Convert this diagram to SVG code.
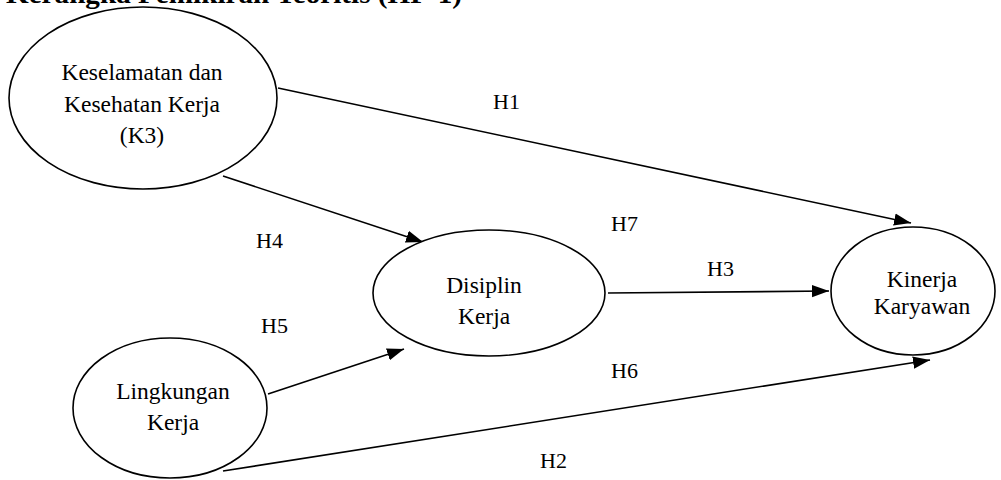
<svg xmlns="http://www.w3.org/2000/svg" width="1001" height="480" viewBox="0 0 1001 480">
<style>
.n{fill:#fff;stroke:#000;stroke-width:1.6}
.t{font-size:23.5px;fill:#000;text-anchor:middle}
.l{font-size:22px;fill:#000}
.c{stroke:#000;stroke-width:1.6;fill:none}
</style>
<defs>
<marker id="ah" viewBox="0 0 10 10" refX="10" refY="5" markerWidth="17" markerHeight="17" markerUnits="userSpaceOnUse" orient="auto">
<path d="M0,1.4 L10,5 L0,8.6 Z" fill="#000"/>
</marker>
</defs>
<rect width="1001" height="480" fill="#fff"/>
<g font-family="Liberation Serif, Times New Roman, serif">
<text x="6" y="3" font-weight="bold" font-size="28" textLength="456" lengthAdjust="spacingAndGlyphs">Kerangka Pemikiran Teoritis (HP-1)</text>
<g id="connectors">
<line class="c" x1="278" y1="88" x2="911" y2="223" marker-end="url(#ah)"/>
<line class="c" x1="223" y1="176" x2="423" y2="242" marker-end="url(#ah)"/>
<line class="c" x1="608" y1="293" x2="829" y2="291" marker-end="url(#ah)"/>
<line class="c" x1="268" y1="394" x2="404" y2="349" marker-end="url(#ah)"/>
<line class="c" x1="223" y1="471" x2="930" y2="360" marker-end="url(#ah)"/>
</g>
<g id="k3">
<ellipse class="n" cx="143" cy="98" rx="134" ry="91"/>
<text class="t" x="142" y="80">Keselamatan dan</text>
<text class="t" x="142" y="112">Kesehatan Kerja</text>
<text class="t" x="142" y="143">(K3)</text>
</g>
<g id="disiplin">
<ellipse class="n" cx="489" cy="293" rx="116" ry="63"/>
<text class="t" x="484" y="293">Disiplin</text>
<text class="t" x="484" y="324">Kerja</text>
</g>
<g id="kinerja">
<ellipse class="n" cx="913" cy="291" rx="82" ry="64"/>
<text class="t" x="922" y="287">Kinerja</text>
<text class="t" x="922" y="314">Karyawan</text>
</g>
<g id="lingkungan">
<ellipse class="n" cx="170" cy="408" rx="97" ry="70"/>
<text class="t" x="173" y="399">Lingkungan</text>
<text class="t" x="173" y="430">Kerja</text>
</g>
<g id="labels">
<text class="l" x="493" y="109">H1</text>
<text class="l" x="256" y="248">H4</text>
<text class="l" x="611" y="231">H7</text>
<text class="l" x="707" y="276">H3</text>
<text class="l" x="261" y="333">H5</text>
<text class="l" x="611" y="378">H6</text>
<text class="l" x="540" y="468">H2</text>
</g>
</g>
</svg>
